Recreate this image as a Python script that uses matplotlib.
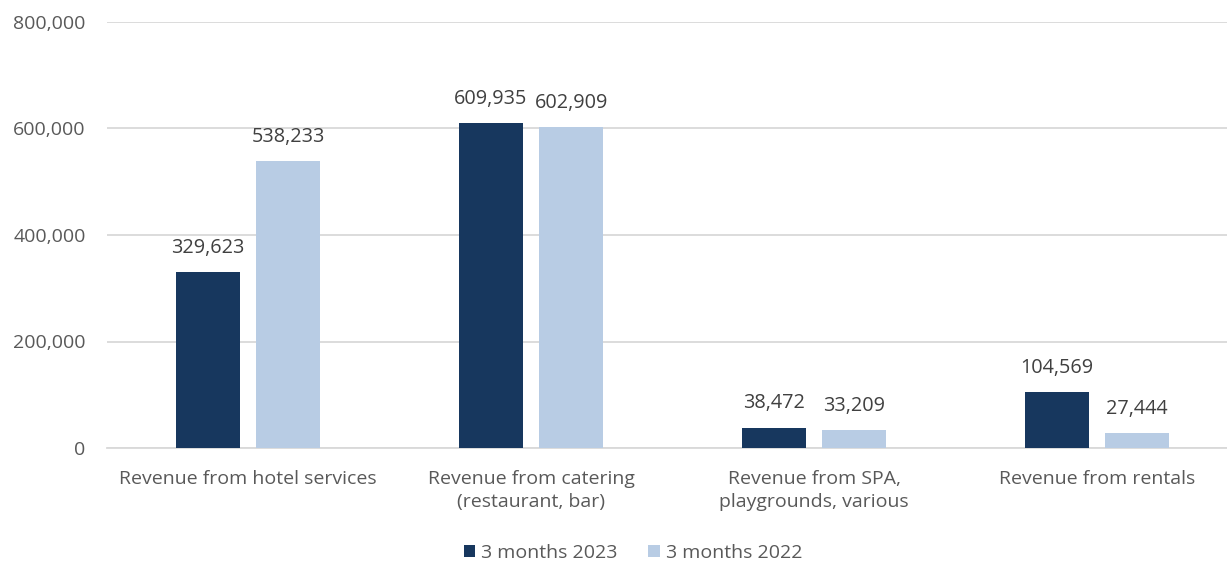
import matplotlib.pyplot as plt
import numpy as np

categories = ["Revenue from hotel services", "Revenue from catering\n(restaurant, bar)",
              "Revenue from SPA,\nplaygrounds, various", "Revenue from rentals"]
vals_2023 = [329623, 609935, 38472, 104569]
vals_2022 = [538233, 602909, 33209, 27444]
series_names = ["3 months 2023", "3 months 2022"]

dark = "#17375E"
light = "#B8CCE4"
txt = "#595959"

plt.rcParams["font.family"] = ["Open Sans", "DejaVu Sans"]

fig = plt.figure(figsize=(12.27, 5.62), dpi=100)
ax = fig.add_axes([106.5 / 1227, 1 - 448 / 562, 1132 / 1227, 426 / 562])

x = np.arange(len(categories))
w = 0.226
off = 0.142
b1 = ax.bar(x - off, vals_2023, w, color=dark, label=series_names[0], zorder=3)
b2 = ax.bar(x + off, vals_2022, w, color=light, label=series_names[1], zorder=3)

for bars, vals in ((b1, vals_2023), (b2, vals_2022)):
    for b, v in zip(bars, vals):
        ax.text(b.get_x() + b.get_width() / 2, v + 27000, f"{v:,}",
                ha="center", va="bottom", fontsize=14.3, color="#404040")

ax.set_xlim(-0.5, 3.5)
ax.set_ylim(0, 800000)
ax.set_yticks(range(0, 800001, 200000))
ax.yaxis.set_major_formatter(plt.FuncFormatter(lambda v, p: f"{int(v):,}"))
ax.set_xticks(x)
ax.set_xticklabels(categories, linespacing=1.35)
ax.tick_params(axis="both", length=0, labelcolor=txt)
ax.tick_params(axis="x", pad=16, labelsize=14)
ax.tick_params(axis="y", pad=15, labelsize=14)
ax.grid(axis="y", color="#D9D9D9", linewidth=1.3, zorder=0)
for s in ["top", "right", "left"]:
    ax.spines[s].set_visible(False)
ax.spines["bottom"].set_color("#D9D9D9")
ax.spines["bottom"].set_linewidth(1.3)

leg = fig.legend(loc="center", bbox_to_anchor=(633 / 1227, 1 - 553 / 562), ncol=2,
                 frameon=False, fontsize=14, handlelength=0.6, handleheight=0.6,
                 handletextpad=0.3, columnspacing=1.6)
for t in leg.get_texts():
    t.set_color(txt)

fig.savefig("out.png", dpi=100)
